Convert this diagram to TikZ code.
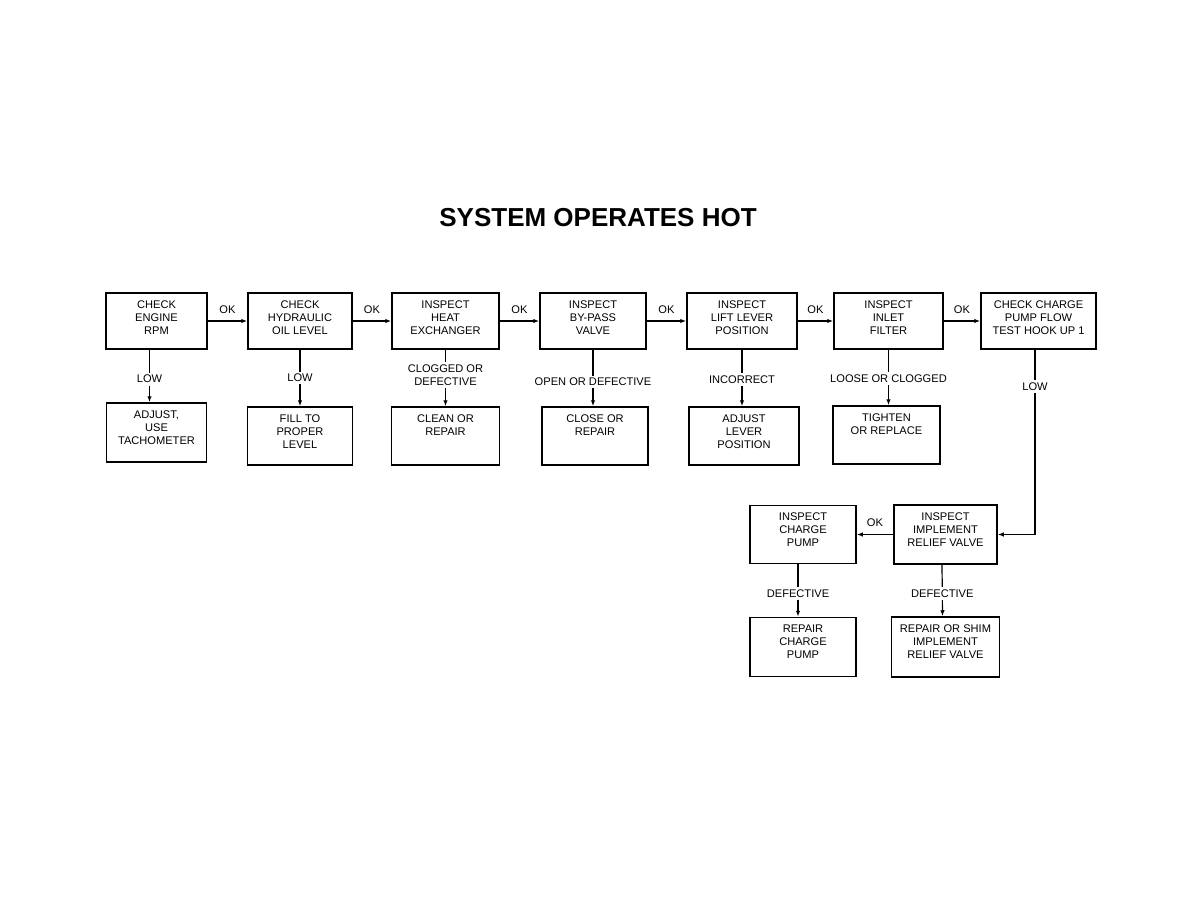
\documentclass[tikz,border=0pt]{standalone}
\usepackage{fontspec}
\setmainfont{Liberation Sans}
\usetikzlibrary{positioning,arrows.meta}

\begin{document}
\begin{tikzpicture}[
  x=1pt, y=-1pt, line width=1.2pt,
  font=\fontsize{11.1}{13}\selectfont, >={Latex[length=6pt,width=4.5pt]},
  box/.style 2 args={draw,line width=1.5pt,inner xsep=2pt,inner ysep=7.5pt,
    text height=7.9pt,minimum width=#1,text depth=#2},
  ok/.style={above=5pt,inner sep=2pt},
  cond/.style={fill=white,inner sep=2.5pt,align=center}
]
\useasboundingbox (0,0) rectangle (1188,918);
\node[font=\bfseries\fontsize{26}{30}\selectfont] (title) at (598,217.5) {SYSTEM OPERATES HOT};
% checks, left to right
\node[box={101pt}{33.1pt}] (rpm) at (156.5,321) {\begin{tabular}[t]{@{}c@{}}CHECK\\ENGINE\\RPM\end{tabular}};
\node[box={104pt}{33.1pt},right=39.5pt of rpm] (oil) {\begin{tabular}[t]{@{}c@{}}CHECK\\HYDRAULIC\\OIL LEVEL\end{tabular}};
\node[box={107pt}{33.1pt},right=38.5pt of oil] (heat) {\begin{tabular}[t]{@{}c@{}}INSPECT\\HEAT\\EXCHANGER\end{tabular}};
\node[box={106pt}{33.1pt},right=39.5pt of heat] (bypass) {\begin{tabular}[t]{@{}c@{}}INSPECT\\BY-PASS\\VALVE\end{tabular}};
\node[box={110pt}{33.1pt},right=39.5pt of bypass] (lever) {\begin{tabular}[t]{@{}c@{}}INSPECT\\LIFT LEVER\\POSITION\end{tabular}};
\node[box={109pt}{33.1pt},right=35.5pt of lever] (filter) {\begin{tabular}[t]{@{}c@{}}INSPECT\\INLET\\FILTER\end{tabular}};
\node[box={115pt}{33.1pt},right=36.5pt of filter] (flow) {\begin{tabular}[t]{@{}c@{}}CHECK CHARGE\\PUMP FLOW\\TEST HOOK UP 1\end{tabular}};
% remedies
\node[box={100pt}{36.1pt},below=52.5pt of rpm] (adj) {\begin{tabular}[t]{@{}c@{}}ADJUST,\\USE\\TACHOMETER\end{tabular}};
\node[box={105pt}{35.1pt},below=56.5pt of oil] (fill) {\begin{tabular}[t]{@{}c@{}}FILL TO\\PROPER\\LEVEL\end{tabular}};
\node[box={108pt}{35.1pt},below=56.5pt of heat] (clean) {\begin{tabular}[t]{@{}c@{}}CLEAN OR\\REPAIR\end{tabular}};
\node[box={106pt}{35.1pt},below=56.5pt of bypass,xshift=2pt] (close) {\begin{tabular}[t]{@{}c@{}}CLOSE OR\\REPAIR\end{tabular}};
\node[box={110pt}{35.1pt},below=56.5pt of lever,xshift=2pt] (adjlev) {\begin{tabular}[t]{@{}c@{}}ADJUST\\LEVER\\POSITION\end{tabular}};
\node[box={107pt}{35.1pt},below=55.5pt of filter,xshift=-2pt] (tight) {\begin{tabular}[t]{@{}c@{}}TIGHTEN\\OR REPLACE\end{tabular}};
% second stage
\node[box={103pt}{36.1pt}] (relief) at (945.5,534.5) {\begin{tabular}[t]{@{}c@{}}INSPECT\\IMPLEMENT\\RELIEF VALVE\end{tabular}};
\node[box={106pt}{35.1pt},left=36.5pt of relief] (pump) {\begin{tabular}[t]{@{}c@{}}INSPECT\\CHARGE\\PUMP\end{tabular}};
\node[box={106pt}{36.1pt},below=52.5pt of pump] (rpump) {\begin{tabular}[t]{@{}c@{}}REPAIR\\CHARGE\\PUMP\end{tabular}};
\node[box={108pt}{37.1pt},below=51.5pt of relief] (shim) {\begin{tabular}[t]{@{}c@{}}REPAIR OR SHIM\\IMPLEMENT\\RELIEF VALVE\end{tabular}};

\draw[->] (rpm) -- node[ok]{OK} (oil);
\draw[->] (oil) -- node[ok]{OK} (heat);
\draw[->] (heat) -- node[ok]{OK} (bypass);
\draw[->] (bypass) -- node[ok]{OK} (lever);
\draw[->] (lever) -- node[ok]{OK} (filter);
\draw[->] (filter) -- node[ok]{OK} (flow);
\draw[->] ([xshift=-7pt]rpm.south) -- node[cond,pos=0.56]{LOW} ([xshift=-7pt]adj.north);
\draw[->] (oil) -- node[cond]{LOW} (fill);
\draw[->] (heat) -- node[cond,pos=0.45]{CLOGGED OR\\DEFECTIVE} (clean);
\draw[->] (bypass) -- node[cond,pos=0.57]{OPEN OR DEFECTIVE} (bypass |- close.north);
\draw[->] (lever) -- node[cond,pos=0.53]{INCORRECT} (lever |- adjlev.north);
\draw[->] (filter) -- node[cond,pos=0.52]{LOOSE OR CLOGGED} (filter |- tight.north);
\draw[->] ([xshift=-3.5pt]flow.south) |- node[cond,pos=0.1]{LOW} (relief);
\draw[->] (relief) -- node[ok]{OK} (pump);
\draw[->] ([xshift=-5pt]pump.south) -- node[cond,pos=0.56]{DEFECTIVE} ([xshift=-5pt]rpump.north);
\draw[->] ([xshift=-3.5pt]relief.south) -- node[cond,pos=0.56]{DEFECTIVE} ([xshift=-3pt]shim.north);
\end{tikzpicture}
\end{document}
